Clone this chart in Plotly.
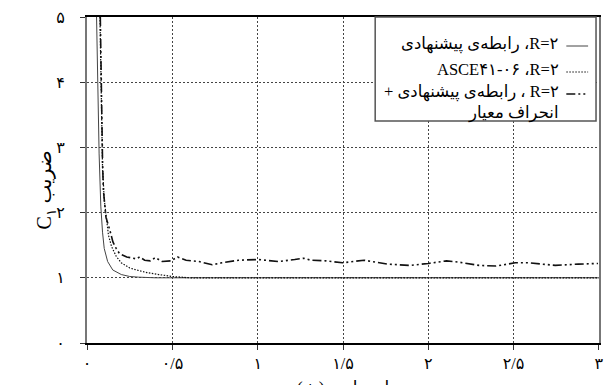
import plotly.graph_objects as go

# ---- data ----
prop_x = [0.055, 0.06, 0.065, 0.07, 0.075, 0.08, 0.09, 0.10, 0.12, 0.15, 0.20, 0.25, 0.30, 0.40, 0.60, 1.0, 1.5, 2.0, 2.5, 3.0]
prop_y = [5.0, 4.2, 3.5, 2.9, 2.5, 2.1, 1.7, 1.45, 1.25, 1.12, 1.05, 1.02, 1.01, 1.0, 1.0, 1.0, 1.0, 1.0, 1.0, 1.0]

asce_x = [0.075, 0.08, 0.085, 0.09, 0.10, 0.11, 0.125, 0.143, 0.17, 0.20, 0.25, 0.29, 0.35, 0.42, 0.50, 0.60, 1.0, 1.5, 2.0, 2.5, 3.0]
asce_y = [5.0, 4.3, 3.5, 2.7, 2.2, 1.95, 1.65, 1.48, 1.33, 1.23, 1.15, 1.12, 1.08, 1.05, 1.02, 1.0, 1.0, 1.0, 1.0, 1.0, 1.0]

std_x = [0.077, 0.08, 0.085, 0.09, 0.095, 0.11, 0.133, 0.151, 0.17, 0.19, 0.232, 0.288, 0.308, 0.337, 0.37, 0.40,
         0.44, 0.49, 0.53, 0.58, 0.656, 0.733, 0.79, 0.888, 1.004, 1.12, 1.217, 1.27, 1.31, 1.40, 1.497, 1.623,
         1.759, 1.892, 2.0, 2.107, 2.18, 2.298, 2.397, 2.47, 2.51, 2.59, 2.745, 2.879, 2.995]
std_y = [5.0, 4.3, 3.5, 2.8, 2.35, 1.93, 1.73, 1.55, 1.45, 1.37, 1.32, 1.29, 1.32, 1.27, 1.26, 1.31,
         1.25, 1.26, 1.32, 1.27, 1.25, 1.20, 1.23, 1.27, 1.28, 1.25, 1.28, 1.30, 1.27, 1.26, 1.23, 1.27,
         1.21, 1.19, 1.22, 1.26, 1.24, 1.19, 1.18, 1.21, 1.23, 1.23, 1.19, 1.21, 1.22]

x_ticks = [0, 0.5, 1, 1.5, 2, 2.5, 3]
x_labels = ["۰", "۰/۵", "۱", "۱/۵", "۲", "۲/۵", "۳"]
y_ticks = [0, 1, 2, 3, 4, 5]
y_labels = ["۰", "۱", "۲", "۳", "۴", "۵"]

# legend texts, written so that the LTR bidi layout gives the reference's RTL look
legend_lines = [
    "رابطه‌ی پیشنهادی ،R=۲",
    "ASCE۴۱-۰۶ ،R=۲",
    "+ رابطه‌ی پیشنهادی ، R=۲",
    "انحراف معیار",
]
y_title = "C<sub>۱</sub> ضریب"
x_title = "زمان تناوب (ث)"

FONT = "Liberation Serif, DejaVu Sans, serif"
DASHDOT = "9px,3px,2px,3px,2px,3px"
DOTTED = "1.5px,1.5px"

fig = go.Figure()
fig.add_trace(go.Scatter(x=prop_x, y=prop_y, mode="lines", line=dict(color="#444", width=1), showlegend=False))
fig.add_trace(go.Scatter(x=asce_x, y=asce_y, mode="lines", line=dict(color="#111", width=1.2, dash=DOTTED), showlegend=False))
fig.add_trace(go.Scatter(x=std_x, y=std_y, mode="lines",
                         line=dict(color="#111", width=1.6, dash=DASHDOT), showlegend=False))

fig.update_layout(
    width=611, height=385,
    margin=dict(l=87, r=7, t=17, b=42),
    plot_bgcolor="white", paper_bgcolor="white",
    font=dict(family=FONT, size=16, color="black"),
    xaxis=dict(range=[-0.001, 3.001], tickvals=x_ticks, ticktext=x_labels, showgrid=True,
               gridcolor="#444", griddash="2px,2px", gridwidth=1, zeroline=False,
               showline=True, linecolor="black", linewidth=2, mirror=True,
               ticks="outside", ticklen=5, tickcolor="#333", tickfont=dict(size=16),
               ticklabeloverflow="allow"),
    yaxis=dict(range=[0, 5], tickvals=y_ticks, ticktext=y_labels, showgrid=True,
               gridcolor="#444", griddash="2px,2px", gridwidth=1, zeroline=False,
               showline=True, linecolor="#777", linewidth=2, mirror=True,
               ticks="outside", ticklen=5, tickcolor="#333", ticklabelstandoff=12, tickfont=dict(size=16)),
)

# ---- legend box (RTL, samples on the right) ----
W, H = 517.0, 326.0
def px(xp):
    return (xp - 87) / W
def py(yp):
    return (343 - yp) / H

fig.add_shape(type="rect", xref="paper", yref="paper", x0=px(378), x1=px(601), y0=py(121), y1=py(17),
              fillcolor="white", line=dict(color="#555", width=1.5), layer="above")

ys = [44, 70, 92, 113]
for txt, yy in zip(legend_lines, ys):
    fig.add_annotation(text=txt, xref="paper", yref="paper", x=px(566), y=py(yy), xanchor="right",
                       yanchor="middle", showarrow=False, font=dict(family=FONT, size=16.5, color="black"))

samples = [dict(color="#444", width=1, dash="solid"),
           dict(color="#111", width=1.2, dash=DOTTED),
           dict(color="#111", width=1.6, dash=DASHDOT)]
for st, yy in zip(samples, ys[:3]):
    fig.add_shape(type="line", xref="paper", yref="paper", x0=px(571), x1=px(593), y0=py(yy + 2), y1=py(yy + 2),
                  line=st, layer="above")

fig.add_annotation(text=y_title, xref="paper", yref="paper", x=px(45), y=py(190), textangle=-90,
                   showarrow=False, xanchor="center", yanchor="middle", font=dict(family=FONT, size=20))
fig.add_annotation(text=x_title, xref="paper", yref="paper", x=px(355), y=py(376), xanchor="center",
                   yanchor="top", showarrow=False, font=dict(family=FONT, size=17))

fig.write_html("out.html", config={"displayModeBar": False},
               post_script="document.body.style.margin='0';document.body.style.overflow='hidden';")
